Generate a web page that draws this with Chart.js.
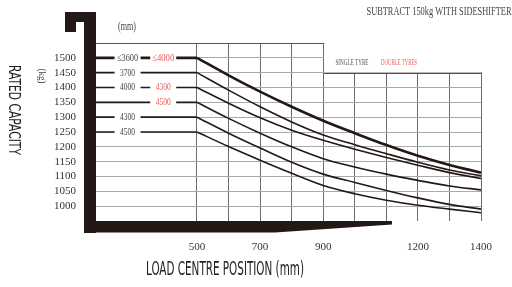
<!DOCTYPE html>
<html lang="en">
<head>
<meta charset="UTF-8">
<title>Rated capacity</title>
<script src="https://cdn.jsdelivr.net/npm/chart.js"></script>
<style>
  html, body { margin: 0; padding: 0; background: #fff; }
</style>
</head>
<body>
<canvas id="capChart" width="512" height="287"></canvas>
<script>
// load centre (mm) where the curves start falling, and capacity (kg) per mast
const loadCentres = [500, 600, 700, 800, 900, 1000, 1100, 1200, 1300, 1400];
const cap3600 = [1500, 1441, 1386, 1335, 1288, 1246, 1206, 1170, 1139, 1113];
const cap3700 = [1450, 1391, 1335, 1284, 1240, 1207, 1177, 1148, 1122, 1102];
const cap4000 = [1400, 1347, 1298, 1256, 1222, 1192, 1164, 1138, 1113, 1093];
const cap4500d = [1350, 1296, 1246, 1200, 1160, 1132, 1108, 1087, 1068, 1055];
const cap4300 = [1300, 1246, 1196, 1148, 1108, 1080, 1053, 1028, 1006, 990];
const cap4500 = [1250, 1201, 1155, 1111, 1070, 1042, 1020, 1003, 990, 978];

const series = [cap3600, cap3700, cap4000, cap4500d, cap4300, cap4500];
const singleLabels = ['\u22643600', '3700', '4000', '', '4300', '4500'];
const doubleLabels = ['\u22644000', '', '4300', '4500', '', ''];

const xGrid = [500, 600, 700, 800, 900, 1000, 1100, 1200, 1300, 1400];
const xTickLabels = [500, 700, 900, 1200, 1400];
const yTickLabels = [1000, 1050, 1100, 1150, 1200, 1250, 1300, 1350, 1400, 1450, 1500];

const xMin = 180, xMax = 1400, yMin = 950, yMax = 1550;
const singleAt = 280, doubleAt = 393;

const ink = '#231815';
const red = '#ec5a5a';

function putText(ctx, text, cx, cy, w, font, color, angle) {
    ctx.save();
    ctx.font = font;
    ctx.fillStyle = color;
    ctx.textAlign = 'center';
    ctx.textBaseline = 'middle';
    ctx.translate(cx, cy);
    if (angle) ctx.rotate(angle);
    const m = ctx.measureText(text).width;
    ctx.scale(w / m, 1);
    ctx.fillText(text, 0, 0);
    ctx.restore();
}

const datasets = [];
series.forEach((s, i) => {
    const w = i === 0 ? 2.6 : 1.6;
    // flat part from the mast up to 500 mm
    datasets.push({
        data: [{x: xMin, y: s[0]}, {x: loadCentres[0], y: s[0]}],
        borderColor: ink, borderWidth: w, pointRadius: 0
    });
    datasets.push({
        data: loadCentres.map((x, j) => ({x: x, y: s[j]})),
        borderColor: ink, borderWidth: w, pointRadius: 0,
        cubicInterpolationMode: 'monotone'
    });
});

const framePlugin = {
    id: 'frame',
    beforeDatasetsDraw(chart) {
        const {ctx, chartArea, scales} = chart;
        const x900 = scales.x.getPixelForValue(900);
        const y1450 = scales.y.getPixelForValue(1450);
        // no grid above 1450 right of 900, legend sits there
        ctx.save();
        ctx.fillStyle = '#fff';
        ctx.fillRect(x900 + 1, chartArea.top - 2, chartArea.right - x900 + 2, y1450 - chartArea.top + 1.5);
        ctx.strokeStyle = '#555';
        ctx.lineWidth = 1;
        ctx.beginPath();
        ctx.moveTo(x900, Math.round(y1450) + 0.5);
        ctx.lineTo(chartArea.right, Math.round(y1450) + 0.5);
        ctx.stroke();
        ctx.restore();
        putText(ctx, 'SINGLE TYRE', 352, 63, 33, '9px "Liberation Serif"', '#555');
        putText(ctx, 'DOUBLE TYRES', 399, 63, 36, '9px "Liberation Serif"', red);
    },
    afterDatasetsDraw(chart) {
        const {ctx, scales} = chart;
        const xs = scales.x.getPixelForValue(singleAt);
        const xd = scales.x.getPixelForValue(doubleAt);
        series.forEach((s, i) => {
            const y = scales.y.getPixelForValue(s[0]);
            ctx.fillStyle = '#fff';
            if (singleLabels[i]) {
                ctx.fillRect(xs - 13, y - 5, 26, 10);
                putText(ctx, singleLabels[i], xs, y, singleLabels[i].length > 4 ? 21 : 15, '11px "Liberation Serif"', '#444');
            }
            if (doubleLabels[i]) {
                ctx.fillStyle = '#fff';
                ctx.fillRect(xd - 13, y - 5, 26, 10);
                putText(ctx, doubleLabels[i], xd, y, doubleLabels[i].length > 4 ? 22 : 15, '11px "Liberation Serif"', red);
            }
        });
    },
    afterDraw(chart) {
        const {ctx, chartArea} = chart;
        const L = chartArea.left, B = chartArea.bottom;
        ctx.save();
        ctx.fillStyle = ink;
        // mast
        ctx.fillRect(L - 12, 12, 12, B);
        // hook on top
        ctx.fillRect(L - 31, 12, 31, 10);
        ctx.fillRect(L - 31, 12, 11, 20);
        // fork
        ctx.beginPath();
        ctx.moveTo(L - 12, B);
        ctx.lineTo(392, B);
        ctx.lineTo(392, B + 3.5);
        ctx.lineTo(275, B + 11.5);
        ctx.lineTo(L - 12, B + 11.5);
        ctx.closePath();
        ctx.fill();
        ctx.restore();

        putText(ctx, '(mm)', 127, 27, 18, '12px "Liberation Serif"', '#444');
        putText(ctx, '(kg)', 42, 76, 15, '11px "Liberation Serif"', '#444', Math.PI / 2);
        putText(ctx, 'RATED CAPACITY', 13, 110, 90, '15px "DejaVu Sans Condensed"', '#222', Math.PI / 2);
        putText(ctx, 'LOAD CENTRE POSITION (mm)', 225, 270, 158, '19px "DejaVu Sans Condensed"', '#222');
        putText(ctx, 'SUBTRACT 150kg WITH SIDESHIFTER', 439, 12, 145, '12px "Liberation Serif"', '#444');
    }
};

new Chart(document.getElementById('capChart').getContext('2d'), {
    type: 'line',
    data: { datasets: datasets },
    options: {
        responsive: false,
        animation: false,
        devicePixelRatio: 1,
        layout: { padding: { left: 0, right: 27, top: 43, bottom: 0 } },
        plugins: { legend: { display: false }, tooltip: { enabled: false } },
        scales: {
            x: {
                type: 'linear',
                min: xMin,
                max: xMax,
                afterFit: scale => { scale.height = 66; },
                afterBuildTicks: scale => { scale.ticks = xGrid.map(v => ({value: v})); },
                border: { display: false },
                grid: { color: '#6a6a6a', lineWidth: 1, drawTicks: false },
                ticks: {
                    autoSkip: false,
                    maxRotation: 0,
                    padding: 20,
                    color: '#333',
                    font: { family: 'Liberation Serif', size: 11 },
                    callback: v => xTickLabels.includes(v) ? String(v) : ''
                }
            },
            y: {
                min: yMin,
                max: yMax,
                afterFit: scale => { scale.width = 96; },
                border: { display: false },
                grid: {
                    drawTicks: false,
                    lineWidth: 1,
                    color: c => c.tick.value === yMax ? '#555' : (c.tick.value === yMin ? 'rgba(0,0,0,0)' : '#aaa')
                },
                ticks: {
                    stepSize: 50,
                    autoSkip: false,
                    padding: 20,
                    color: '#333',
                    font: { family: 'Liberation Serif', size: 11 },
                    callback: v => yTickLabels.includes(v) ? String(v) : ''
                }
            }
        }
    },
    plugins: [framePlugin]
});
</script>
</body>
</html>
